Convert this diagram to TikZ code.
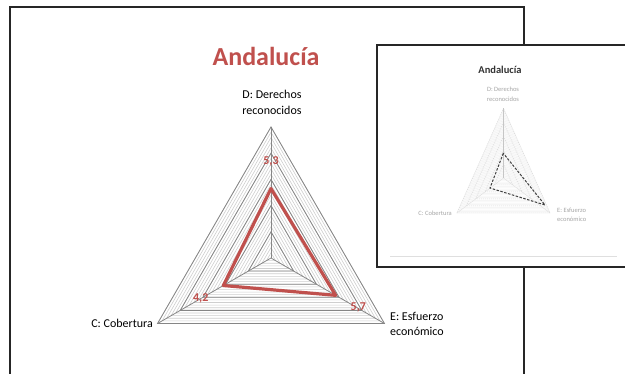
\documentclass[tikz,border=0pt]{standalone}
\usepackage{fontspec}
\setmainfont{Carlito}
\definecolor{xred}{HTML}{C0504D}
\definecolor{xmajor}{HTML}{868686}
\definecolor{xminor}{HTML}{CFCFCF}
\definecolor{xframe}{HTML}{262626}
\tikzset{
  frameline/.style={draw=xframe, line width=2pt},
  minorgrid/.style={draw=xminor, line width=0.6pt},
  majorgrid/.style={draw=xmajor, line width=0.8pt},
  seriesline/.style={draw=xred, line width=3.2pt, line join=round},
  axislabel/.style={inner sep=0pt, anchor=base, font=\fontsize{12}{15}\selectfont, text=black},
  vallabel/.style={inner sep=0pt, anchor=base, font=\fontsize{12}{15}\selectfont\bfseries, text=xred},
  smallminor/.style={draw=gray!12, line width=0.4pt},
  smallmajor/.style={draw=gray!30, line width=0.5pt, dash pattern=on 1pt off 1pt},
  smalllabel/.style={inner sep=0pt, anchor=base, font=\fontsize{6.5}{8}\selectfont, text=gray!70},
  smallseries/.style={draw=black!75, line width=1pt, dash pattern=on 2.5pt off 1.5pt},
}
\begin{document}
\begin{tikzpicture}[x=1pt,y=-1pt]
\useasboundingbox (0,0) rectangle (625,374);
\clip (0,0) rectangle (625,374);
\fill[white] (0,0) rectangle (625,374);

% main slide frame
\draw[frameline] (10,380) -- (10,7) -- (524,7) -- (524,380);

% title
\node[inner sep=0pt, anchor=base, font=\fontsize{26}{30}\selectfont\bfseries, text=xred] (title) at (266,66) {Andalucía};

% main radar chart
\begin{scope}[shift={(271,258)}]
  \foreach \k in {1,...,25} {
    \pgfmathsetmacro\f{\k/25}
    \draw[minorgrid] (0,-131*\f) -- (-113.45*\f,65.5*\f) -- (113.45*\f,65.5*\f) -- cycle;
  }
  \foreach \k in {5,10,...,25} {
    \pgfmathsetmacro\f{\k/25}
    \draw[majorgrid] (0,-131*\f) -- (-113.45*\f,65.5*\f) -- (113.45*\f,65.5*\f) -- cycle;
  }
  \coordinate (ctr) at (0,0);
  \coordinate (vD) at (0,-131);
  \coordinate (vC) at (-113.45,65.5);
  \coordinate (vE) at (113.45,65.5);
  \draw[majorgrid] (ctr) -- (vD);
  \draw[majorgrid] (ctr) -- (vC);
  \draw[majorgrid] (ctr) -- (vE);
  \coordinate (pD) at (0,-69.43);
  \coordinate (pC) at (-47.65,27.51);
  \coordinate (pE) at (64.67,37.34);
  \draw[seriesline] (pD) -- (pC) -- (pE) -- cycle;
\end{scope}

% value labels
\node[vallabel] (v53) at (271,164.7) {5,3};
\node[vallabel] (v42) at (200.7,301.3) {4,2};
\node[vallabel] (v57) at (358.3,310.7) {5,7};

% axis labels
\node[axislabel] (dlab1) at (272,99) {D: Derechos};
\node[axislabel] (dlab2) at (272,114.3) {reconocidos};
\node[axislabel, anchor=base east] (clab) at (153,327.5) {C: Cobertura};
\node[axislabel, anchor=base west] (elab1) at (390,320.7) {E: Esfuerzo};
\node[axislabel, anchor=base west] (elab2) at (390,336) {económico};

% inset thumbnail
\draw[frameline, fill=white] (377,45) rectangle (632,267);
\draw[draw=gray!25, line width=0.8pt] (390,256) -- (617,256);
\node[inner sep=0pt, anchor=base, font=\fontsize{10.5}{12}\selectfont\bfseries, text=black!80] (stitle) at (500,74) {Andalucía};

\begin{scope}[shift={(503.5,178)}]
  \foreach \k in {1,...,25} {
    \pgfmathsetmacro\f{\k/25}
    \draw[smallminor] (0,-69.5*\f) -- (-46.5*\f,35*\f) -- (46.5*\f,35*\f) -- cycle;
  }
  \foreach \k in {5,10,...,25} {
    \pgfmathsetmacro\f{\k/25}
    \draw[smallmajor] (0,-69.5*\f) -- (-46.5*\f,35*\f) -- (46.5*\f,35*\f) -- cycle;
  }
  \coordinate (sctr) at (0,0);
  \coordinate (svD) at (0,-69.5);
  \coordinate (svC) at (-46.5,35);
  \coordinate (svE) at (46.5,35);
  \draw[draw=gray!45, line width=0.5pt] (sctr) -- (svD);
  \draw[draw=gray!25, line width=0.4pt] (sctr) -- (svC);
  \draw[draw=gray!25, line width=0.4pt] (sctr) -- (svE);
  \coordinate (spD) at (-0.2,-24.7);
  \coordinate (spC) at (-13.5,10);
  \coordinate (spE) at (41.5,27);
  \draw[smallseries] (spD) -- (spC) -- (spE) -- cycle;
\end{scope}

\node[smalllabel] (sdlab1) at (503,91.5) {D: Derechos};
\node[smalllabel] (sdlab2) at (503,101.5) {reconocidos};
\node[smalllabel, anchor=base east] (sclab) at (452,216) {C: Cobertura};
\node[smalllabel, anchor=base west] (selab1) at (557,212.5) {E: Esfuerzo};
\node[smalllabel, anchor=base west] (selab2) at (557,222) {económico};
\end{tikzpicture}
\end{document}
